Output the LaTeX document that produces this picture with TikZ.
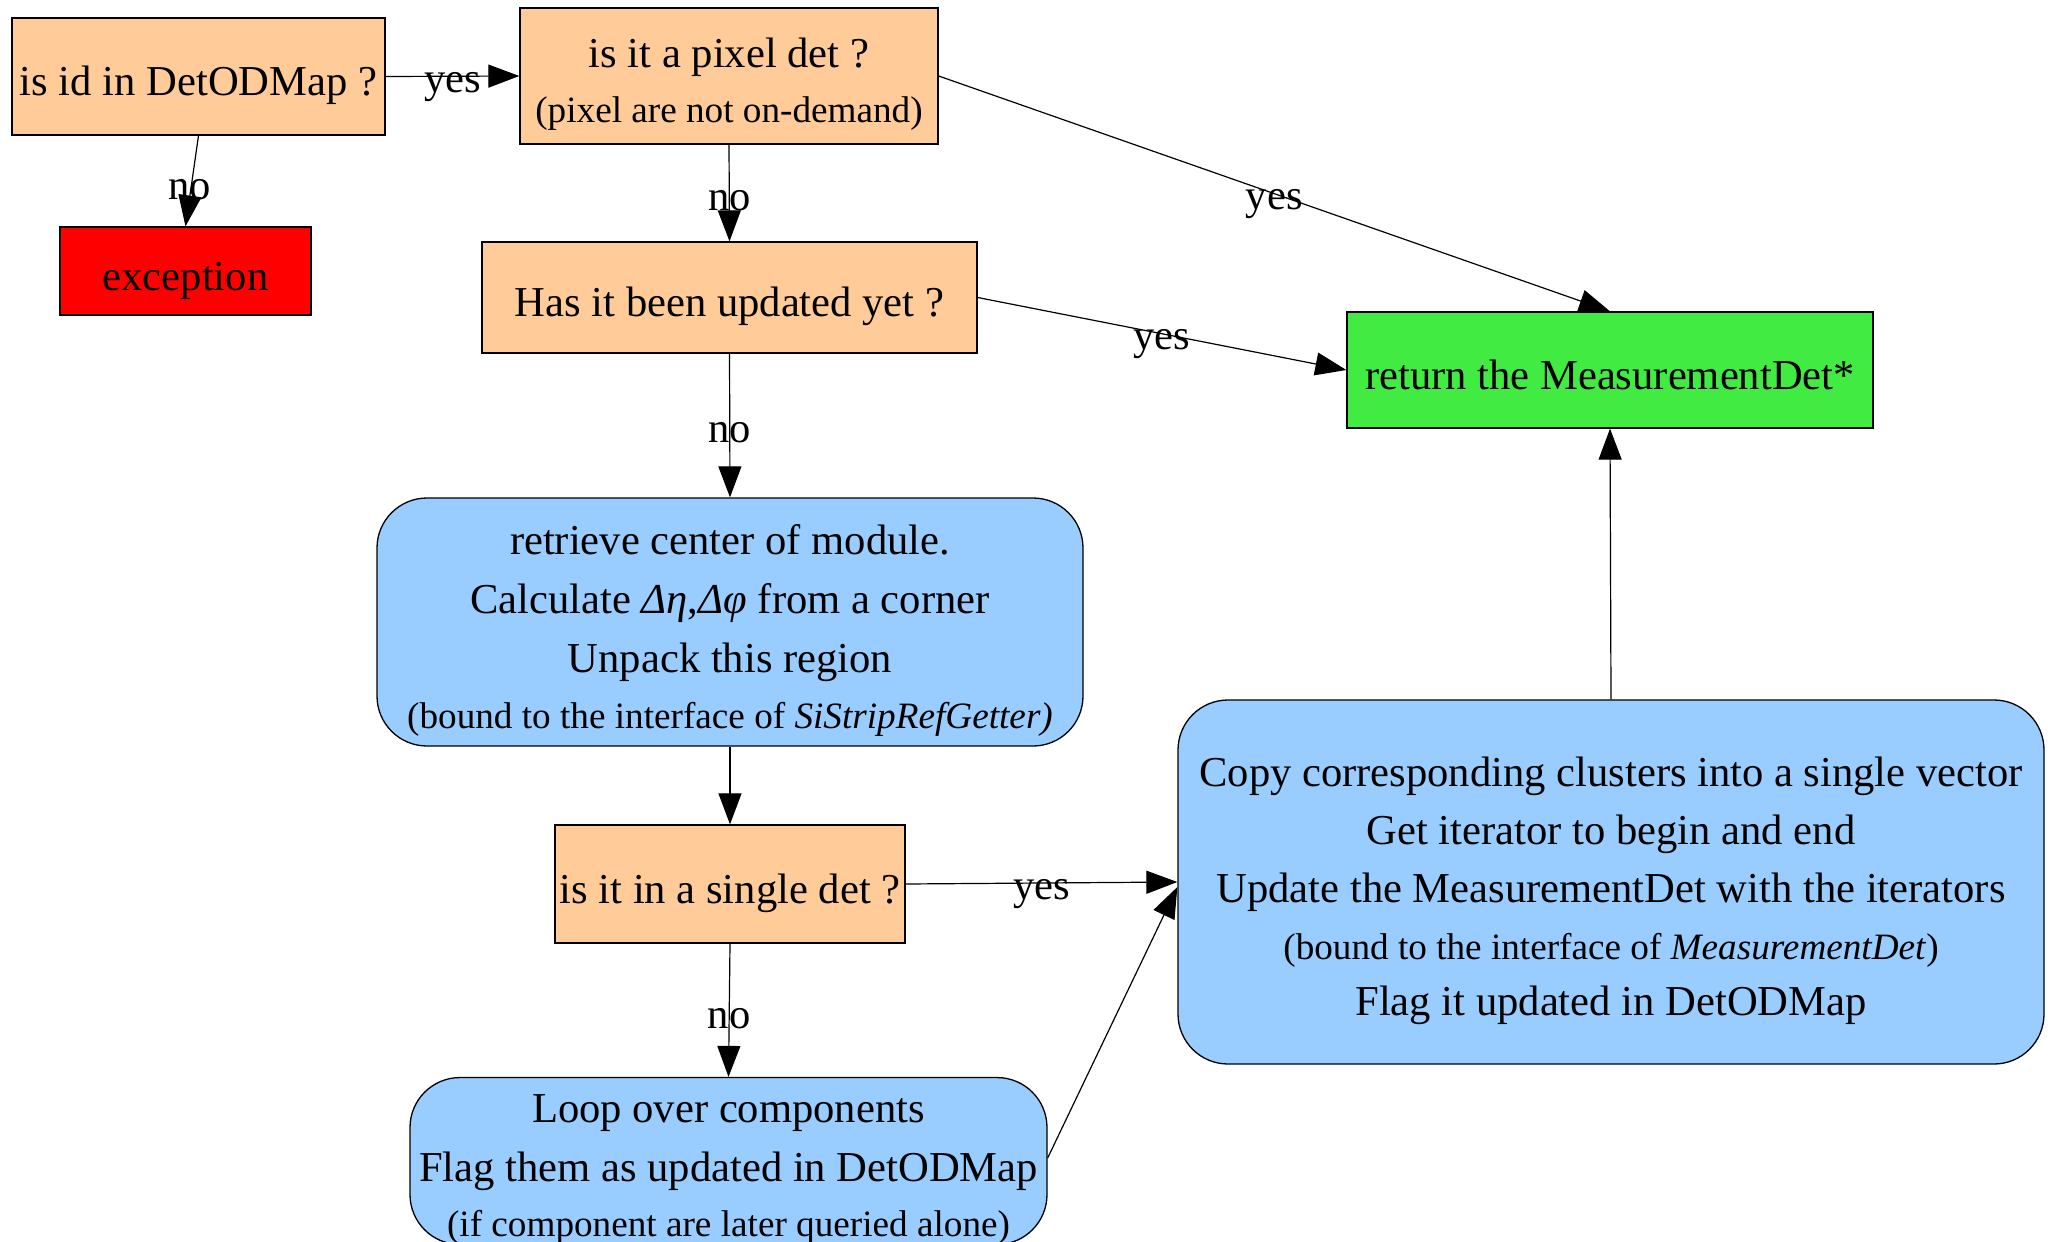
\documentclass[tikz,border=0pt]{standalone}
\usepackage{fontspec}
\setmainfont{Liberation Serif}
\usetikzlibrary{arrows.meta}
\newcommand\bigsz{\fontsize{42.6}{59}\selectfont}
\newcommand\smallsz{\fontsize{37.2}{55}\selectfont}
% struts that fix the top and bottom of every box text
\newcommand\ts{\rule{0pt}{50pt}}
\newcommand\bs{\rule[-12pt]{0pt}{12pt}}
\definecolor{peach}{RGB}{255,204,153}
\definecolor{sky}{RGB}{153,204,255}
\definecolor{retgreen}{RGB}{66,235,66}
\begin{document}
\begin{tikzpicture}[x=1pt,y=-1pt,
  box/.style={draw=black, line width=1.3pt, font=\bigsz, align=center, inner sep=0pt, anchor=center},
  decision/.style={box, fill=peach},
  action/.style={box, fill=sky, rounded corners=50pt},
  flow/.style={draw=black, line width=1.2pt, -{Triangle[length=31pt,width=23pt]}},
  lbl/.style={font=\bigsz, inner sep=0pt, anchor=base},
]
\useasboundingbox (0,0) rectangle (2048,1242);
\clip (0,0) rectangle (2048,1242);
\fill[white] (0,0) rectangle (2048,1242);

% decisions and terminal boxes
\node[decision, minimum width=373pt, minimum height=117pt] (idmap) at (198.5,76.5) {\ts is id in DetODMap ?\bs};
\node[decision, minimum width=418pt, minimum height=136pt] (pixel) at (729,76)
  {\ts is it a pixel det ?\\[-4pt]{\smallsz (pixel are not on-demand)}\bs};
\node[box, fill=red, minimum width=251pt, minimum height=88pt] (exc) at (185.5,271) {\ts exception\bs};
\node[decision, minimum width=495pt, minimum height=111pt] (updated) at (729.5,297.5) {\ts Has it been updated yet ?\bs};
\node[box, fill=retgreen, minimum width=526pt, minimum height=116pt] (ret) at (1610,370) {\ts return the MeasurementDet*\bs};

% processing steps
\node[action, minimum width=706pt, minimum height=248pt] (region) at (730,622)
  {\ts retrieve center of module.\\
   Calculate {\itshape Δη},{\itshape Δφ} from a corner\\
   Unpack this region\\[-3pt]
   {\smallsz (bound to the interface of \textit{SiStripRefGetter)}}\bs};
\node[decision, minimum width=350pt, minimum height=118pt] (single) at (730,884) {\ts is it in a single det ?\bs};
\node[action, minimum width=637pt, minimum height=162pt] (loop) at (728.5,1161)
  {\rule{0pt}{45pt}Loop over components\\
   Flag them as updated in DetODMap\\[-4pt]
   {\smallsz (if component are later queried alone)}};
\node[action, minimum width=866pt, minimum height=364pt] (copy) at (1611,882)
  {\ts Copy corresponding clusters into a single vector\\[-1pt]
   Get iterator to begin and end\\[-1pt]
   Update the MeasurementDet with the iterators\\[-2pt]
   {\smallsz (bound to the interface of \textit{MeasurementDet})}\\[-3pt]
   Flag it updated in DetODMap\bs};

% connectors
\draw[flow] (idmap.east) -- node[lbl, pos=.5, yshift=-16pt] {yes} (pixel.west);
\draw[flow] (idmap.south) -- node[lbl, pos=.7] {no} (exc.north);
\draw[flow] (pixel.south) -- node[lbl, pos=.68] {no} (updated.north);
\draw[flow] (pixel.east) -- node[lbl, pos=.5, yshift=-16pt] {yes} (ret.north);
\draw[flow] (updated.east) -- node[lbl, pos=.5, yshift=-16pt] {yes} (ret.west);
\draw[flow] (updated.south) -- node[lbl, pos=.62] {no} (region.north);
\draw[flow] (region.south) -- (single.north);
\draw[flow] (single.east) -- node[lbl, pos=.5, yshift=-16pt] {yes} (copy.west);
\draw[flow] (single.south) -- node[lbl, pos=.64] {no} (loop.north);
\draw[flow] ([yshift=3pt]loop.east) -- ([yshift=-5pt]copy.west);
\draw[flow] (copy.north) -- (ret.south);
\end{tikzpicture}
\end{document}
